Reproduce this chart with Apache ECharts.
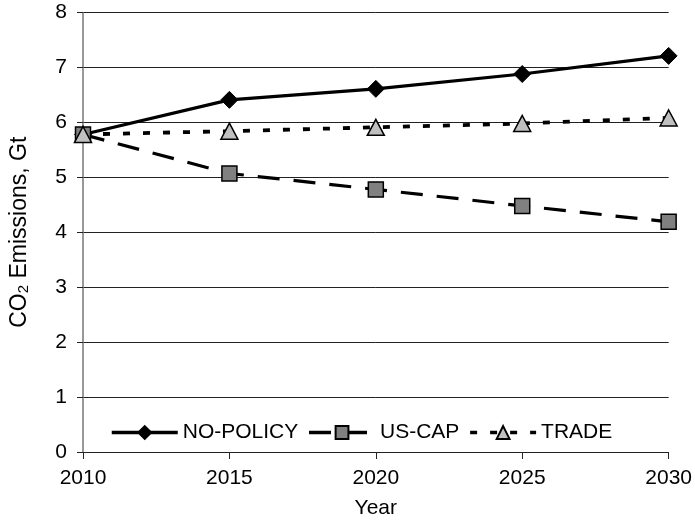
<!DOCTYPE html>
<html>
<head>
<meta charset="utf-8">
<script src="https://cdn.jsdelivr.net/npm/echarts@6/dist/echarts.min.js"></script>
<style>
  html, body { margin: 0; padding: 0; background: #fff; }
  #chart { width: 695px; height: 525px; }
</style>
</head>
<body>
<div id="chart"></div>
<script>
// values
const years = [2010, 2015, 2020, 2025, 2030];
const noPolicy = [5.78, 6.41, 6.61, 6.88, 7.21];
const usCap = [5.78, 5.07, 4.78, 4.48, 4.19];
const trade = [5.78, 5.84, 5.91, 5.98, 6.08];
const yTicks = [0, 1, 2, 3, 4, 5, 6, 7, 8];

const font = 'Liberation Sans, Arial, sans-serif';
const pairs = arr => years.map((y, i) => [y, arr[i]]);

const chart = echarts.init(document.getElementById('chart'));

chart.setOption({
  animation: false,
  textStyle: { fontFamily: font, color: '#000' },
  grid: { left: 80, right: 24, top: 12.5, bottom: 73 },
  legend: {
    left: 105,
    top: 417,
    itemWidth: 66,
    itemHeight: 16,
    itemGap: 9,
    lineStyle: { width: 3.5 },
    textStyle: { fontSize: 21, fontFamily: font, color: '#000' },
    data: ['NO-POLICY', 'US-CAP', 'TRADE']
  },
  xAxis: {
    type: 'value',
    min: 2010,
    max: 2030,
    interval: 5,
    name: 'Year',
    nameLocation: 'middle',
    nameGap: 46,
    nameTextStyle: { fontSize: 21, fontFamily: font, color: '#000' },
    axisLine: { lineStyle: { color: '#222', width: 1 } },
    axisTick: { show: true, length: 7, lineStyle: { color: '#222' } },
    axisLabel: { fontSize: 21, margin: 16, color: '#000', fontFamily: font, formatter: v => String(v) },
    splitLine: { show: false }
  },
  yAxis: {
    type: 'value',
    min: yTicks[0],
    max: yTicks[yTicks.length - 1],
    interval: 1,
    name: '{a|CO}{s|2}{a| Emissions, Gt}',
    nameLocation: 'middle',
    nameGap: 52,
    nameRotate: 90,
    nameTextStyle: {
      fontFamily: font,
      color: '#000',
      rich: {
        a: { fontSize: 23, lineHeight: 25, verticalAlign: 'bottom', fontFamily: font },
        s: { fontSize: 15, lineHeight: 10, verticalAlign: 'bottom', fontFamily: font }
      }
    },
    axisLine: { show: true, lineStyle: { color: '#777', width: 1.5 } },
    axisTick: { show: true, length: 6, lineStyle: { color: '#222' } },
    axisLabel: { fontSize: 21, margin: 16, color: '#000', fontFamily: font },
    splitLine: { show: true, lineStyle: { color: '#222', width: 1 } }
  },
  series: [
    {
      name: 'NO-POLICY',
      type: 'line',
      data: pairs(noPolicy),
      symbol: 'diamond',
      symbolSize: 17,
      lineStyle: { color: '#000', width: 3.2, type: 'solid' },
      itemStyle: { color: '#000', borderColor: '#000', borderWidth: 1 }
    },
    {
      name: 'US-CAP',
      type: 'line',
      data: pairs(usCap),
      symbol: 'rect',
      symbolSize: 15,
      lineStyle: { color: '#000', width: 3.2, type: [22, 14] },
      itemStyle: { color: '#808080', borderColor: '#000', borderWidth: 1.5 }
    },
    {
      name: 'TRADE',
      type: 'line',
      data: pairs(trade),
      symbol: 'triangle',
      symbolSize: [17, 16],
      lineStyle: { color: '#000', width: 3.8, type: [7, 13] },
      itemStyle: { color: '#c0c0c0', borderColor: '#000', borderWidth: 1.5 }
    }
  ]
});
</script>
</body>
</html>
